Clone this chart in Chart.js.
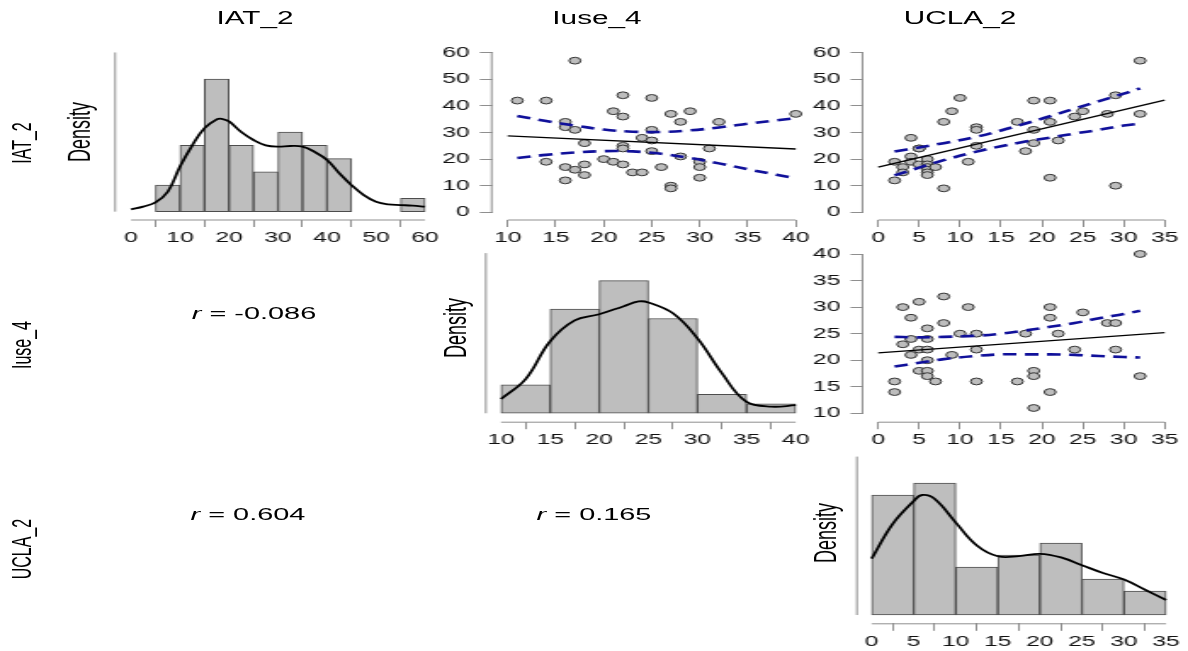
<!DOCTYPE html>
<html><head><meta charset="utf-8">
<script src="https://cdn.jsdelivr.net/npm/chart.js@4.4.1/dist/chart.umd.min.js"></script>
<style>
html,body{margin:0;padding:0;background:#fff;overflow:hidden;width:1188px;height:651px;}
#stage{position:absolute;left:0;top:0;width:699px;height:651px;transform:scaleX(1.6996);transform-origin:0 0;font-family:'Liberation Sans',Arial,Helvetica,sans-serif;}
#stage canvas{position:absolute;left:0;top:0;}
.t{position:absolute;white-space:nowrap;color:#000;line-height:1;transform:translate(-50%,-50%);}
.rot{transform:translate(-50%,-50%) rotate(-90deg);}
</style></head><body><div id="stage"></div>
<script>
// ---------------- DATA ----------------
const varNames = ['IAT_2', 'Iuse_4', 'UCLA_2'];
const rValues = ['-0.086', '0.604', '0.165'];   // Iuse_4~IAT_2, UCLA_2~IAT_2, UCLA_2~Iuse_4

// histograms (bin width 5, counts)
const iatBins = [5, 10, 15, 20, 25, 30, 35, 40, 45, 50, 55];
const iatCounts = [2, 5, 10, 5, 3, 6, 5, 4, 0, 0, 1];
const iuseBins = [10, 15, 20, 25, 30, 35];
const iuseCounts = [3, 11, 14, 10, 2, 1];
const uclaBins = [0, 5, 10, 15, 20, 25, 30];
const uclaCounts = [10, 11, 4, 5, 6, 3, 2];

// density curves (in count units)
const iatCurveX = [0, 2.5, 5, 7.5, 10, 12.5, 15, 17.5, 18.5, 20, 22.5, 25, 27.5, 30, 32.5, 35, 37.5, 40, 42.5, 45, 47.5, 50, 52.5, 55, 57.5, 60];
const iatCurveY = [0.18, 0.38, 0.7, 1.5, 3.4, 5.0, 6.3, 6.96, 7.0, 6.8, 6.0, 5.4, 5.0, 4.9, 4.95, 4.9, 4.5, 3.9, 2.9, 2.0, 1.25, 0.75, 0.55, 0.5, 0.45, 0.38];
const iuseCurveX = [10, 12.5, 15, 17.5, 20, 22.5, 24, 25, 27.5, 30, 32.5, 35, 37.5, 40];
const iuseCurveY = [1.5, 3.6, 7.6, 9.8, 10.45, 11.3, 11.8, 11.7, 10.55, 7.9, 4.2, 1.2, 0.7, 0.85];
const uclaCurveX = [0, 2.5, 5, 6, 7.5, 10, 12.5, 15, 17.5, 20, 22.5, 25, 27.5, 30, 32.5, 35];
const uclaCurveY = [4.7, 7.6, 9.5, 10.0, 9.67, 7.7, 5.8, 4.9, 4.9, 5.1, 4.8, 4.15, 3.5, 2.95, 2.1, 1.25];

// scatter: Iuse_4 (x) vs IAT_2 (y)
const bIuse = [11,14,14,16,16,16,16,17,17,17,18,18,18,20,21,21,22,22,22,22,22,23,24,24,25,25,25,25,26,27,27,27,28,28,29,30,30,30,31,32,40];
const bIat  = [42,42,19,34,32,17,12,57,31,16,26,18,14,20,38,19,44,36,25,24,18,15,28,15,43,31,27,23,17,37,10,9,34,21,38,19,17,13,24,34,37];
// scatter: UCLA_2 (x) vs IAT_2 (y)
const cUcla = [2,2,3,3,4,4,4,5,5,5,6,6,6,6,6,6,7,8,8,9,10,11,12,12,12,17,18,19,19,19,21,21,21,22,24,25,28,29,29,32,32];
const cIat  = [19,12,17,15,28,21,19,24,18,24,20,18,17,16,15,14,17,34,9,38,43,19,32,31,25,34,23,42,31,26,42,34,13,27,36,38,37,44,10,57,37];
// scatter: UCLA_2 (x) vs Iuse_4 (y)
const eUcla = [2,2,3,3,4,4,4,5,5,5,6,6,6,6,6,6,7,8,8,9,10,11,12,12,12,17,18,19,19,19,21,21,21,22,24,25,28,29,29,32,32];
const eIuse = [16,14,30,23,28,24,21,31,22,18,26,24,22,20,18,17,16,32,27,21,25,30,25,22,16,16,25,18,17,11,30,28,14,25,22,29,27,27,22,40,17];

// regression lines and 95% bands
const bFitX = [10, 40], bFitY = [28.7, 23.8];
const bCiX  = [11, 14, 17, 20, 23, 26, 29, 32, 35, 38, 40];
const bCiHi = [36.2, 34.3, 32.6, 31.1, 30.3, 30.2, 30.8, 31.9, 33.3, 34.6, 35.4];
const bCiLo = [20.4, 21.6, 22.5, 23.0, 22.9, 22.0, 20.4, 18.4, 16.2, 14.1, 12.8];
const cFitX = [0, 35], cFitY = [17.0, 42.2];
const cCiX  = [2, 5, 8, 12, 15, 18, 21, 24, 27, 30, 32];
const cCiHi = [22.9, 24.4, 26.0, 28.4, 30.75, 33.4, 36.1, 39.0, 41.8, 44.6, 46.6];
const cCiLo = [13.9, 16.8, 19.6, 22.8, 24.85, 26.6, 28.1, 29.6, 31.0, 32.6, 33.4];
const eFitX = [0, 35], eFitY = [21.4, 25.2];
const eCiX  = [2, 5, 8, 12, 15, 18, 21, 24, 27, 30, 32];
const eCiHi = [24.4, 24.3, 24.4, 24.6, 25.0, 25.6, 26.3, 27.0, 27.9, 28.7, 29.3];
const eCiLo = [18.8, 19.5, 20.2, 20.8, 21.1, 21.1, 21.1, 21.0, 20.8, 20.6, 20.5];

// tick labels
const ticksIat60 = [0, 10, 20, 30, 40, 50, 60];
const ticksIuse = [10, 15, 20, 25, 30, 35, 40];
const ticksUcla = [0, 5, 10, 15, 20, 25, 30, 35];

// ---------------- STYLE / LAYOUT ----------------
const W = 699, H = 651, SX = 1188 / W;
const FONT = "'Liberation Sans', Arial, Helvetica, sans-serif";
const AXIS = '#8f8f8f';
const stage = document.getElementById('stage');

const pts = (xs, ys) => xs.map((x, i) => ({x: x, y: ys[i]}));
const bars = (bins, counts) => bins.map((b, i) => ({x: b + 2.5, y: counts[i] > 0 ? counts[i] : null}));

function histSets(bins, counts, cx, cy) {
  return [
    {type: 'line', data: pts(cx, cy), borderColor: '#000', borderWidth: 1.8, pointRadius: 0, tension: 0.4, fill: false, order: 0},
    {type: 'bar', data: bars(bins, counts), backgroundColor: '#bebebe', borderColor: '#4d4d4d', borderWidth: 1,
     borderSkipped: false, barPercentage: 1, categoryPercentage: 1, order: 2}
  ];
}
function scatterSets(xs, ys, fx, fy, cx, chi, clo) {
  const dash = {type: 'line', borderColor: '#10109a', borderWidth: 2.6, borderDash: [8, 5], pointRadius: 0, tension: 0.35, fill: false, order: 0};
  return [
    {type: 'line', data: pts(fx, fy), borderColor: '#000', borderWidth: 1.3, pointRadius: 0, tension: 0, fill: false, order: 0},
    Object.assign({data: pts(cx, chi)}, dash),
    Object.assign({data: pts(cx, clo)}, dash),
    {type: 'scatter', data: pts(xs, ys), pointRadius: 3.4, pointBackgroundColor: '#bdbdbd', pointBorderColor: '#333',
     pointBorderWidth: 1, showLine: false, order: 2}
  ];
}

// geo: chart-area edges in screenshot pixels (l, r horizontal; t, b vertical)
function panel(geo, xr, yr, xTicks, yTicks, yLineTop, datasets) {
  const cv = document.createElement('canvas');
  cv.width = W; cv.height = H;
  stage.appendChild(cv);
  const caL = geo.l / SX, caR = geo.r / SX;
  const YW = yTicks ? 40 : 0, XH = 30;
  const axisLines = {
    id: 'raxis',
    afterDraw(chart) {
      const ctx = chart.ctx, sx = chart.scales.x, sy = chart.scales.y, a = chart.chartArea;
      ctx.save();
      ctx.strokeStyle = AXIS; ctx.lineWidth = 1;
      ctx.beginPath();
      ctx.moveTo(sx.getPixelForValue(xTicks[0]), a.bottom + 0.5);
      ctx.lineTo(sx.getPixelForValue(xTicks[xTicks.length - 1]), a.bottom + 0.5);
      const y0 = yTicks ? yTicks[0] : 0, y1 = yTicks ? yTicks[yTicks.length - 1] : yLineTop;
      ctx.moveTo(a.left - 0.5, sy.getPixelForValue(y0));
      ctx.lineTo(a.left - 0.5, sy.getPixelForValue(y1));
      ctx.stroke();
      ctx.restore();
    }
  };
  const tickFont = {family: FONT, size: 14.5};
  const yScale = yTicks ? {
    type: 'linear', position: 'left', min: yr[0], max: yr[1],
    afterBuildTicks: s => { s.ticks = yTicks.map(v => ({value: v})); },
    afterFit: s => { s.width = YW; s.paddingTop = 0; s.paddingBottom = 0; },
    grid: {display: true, drawOnChartArea: false, drawTicks: true, tickLength: 7.5, color: AXIS, lineWidth: 1},
    border: {display: false},
    ticks: {autoSkip: false, padding: 6, color: '#111', font: tickFont}
  } : {type: 'linear', display: false, min: yr[0], max: yr[1]};
  new Chart(cv, {
    type: 'scatter',
    data: {datasets: datasets},
    options: {
      responsive: false, animation: false, devicePixelRatio: 1,
      layout: {padding: {left: caL - YW, right: W - caR, top: geo.t, bottom: H - geo.b - XH}},
      plugins: {legend: {display: false}, tooltip: {enabled: false}},
      scales: {
        x: {
          type: 'linear', position: 'bottom', min: xr[0], max: xr[1], offset: false,
          afterBuildTicks: s => { s.ticks = xTicks.map(v => ({value: v})); },
          afterFit: s => { s.height = XH; s.paddingLeft = 0; s.paddingRight = 0; },
          grid: {display: true, drawOnChartArea: false, drawTicks: true, tickLength: 7.5, color: AXIS, lineWidth: 1},
          border: {display: false},
          ticks: {autoSkip: false, maxRotation: 0, padding: 2, color: '#111', font: tickFont}
        },
        y: yScale
      }
    },
    plugins: [axisLines]
  });
}

// row 1
panel({l: 116, r: 440, t: 45.7, b: 219.5}, [-3.06, 63.06], [-0.59, 12.51], ticksIat60, null, 12,
      histSets(iatBins, iatCounts, iatCurveX, iatCurveY));
panel({l: 492.5, r: 811, t: 45.7, b: 219.5}, [8.42, 41.59], [-2.7, 62.63], ticksIuse, ticksIat60, null,
      scatterSets(bIuse, bIat, bFitX, bFitY, bCiX, bCiHi, bCiLo));
panel({l: 863.3, r: 1181, t: 45.7, b: 219.5}, [-1.82, 36.82], [-2.7, 62.63], ticksUcla, ticksIat60, null,
      scatterSets(cUcla, cIat, cFitX, cFitY, cCiX, cCiHi, cCiLo));
// row 2
panel({l: 486.7, r: 810, t: 246.5, b: 421.7}, [8.54, 41.46], [-0.89, 17.6], ticksIuse, null, 16.9,
      histSets(iuseBins, iuseCounts, iuseCurveX, iuseCurveY));
panel({l: 863.3, r: 1181, t: 247, b: 421.7}, [-1.82, 36.82], [8.42, 41.32], ticksUcla, ticksIuse, null,
      scatterSets(eUcla, eIuse, eFitX, eFitY, eCiX, eCiHi, eCiLo));
// row 3
panel({l: 857.7, r: 1180, t: 450, b: 623.3}, [-1.66, 36.66], [-0.69, 13.75], ticksUcla, null, 13.2,
      histSets(uclaBins, uclaCounts, uclaCurveX, uclaCurveY));

// ---------------- TEXT ----------------
function text(html, x, y, size, rot) {
  const d = document.createElement('div');
  d.className = 't' + (rot ? ' rot' : '');
  d.innerHTML = html;
  d.style.left = (x / SX) + 'px';
  d.style.top = y + 'px';
  d.style.fontSize = size + 'px';
  stage.appendChild(d);
}
const colX = [255, 597, 960];
const rowY = [143, 345, 549];
varNames.forEach((n, i) => { text(n, colX[i], 19, 17.5, false); text(n, 22, rowY[i], 16, true); });
text('Density', 80, 132, 18, true);
text('Density', 455, 328, 18, true);
text('Density', 826, 533, 18, true);
text('<i>r</i> = ' + rValues[0], 254, 313, 17, false);
text('<i>r</i> = ' + rValues[1], 248, 514, 17, false);
text('<i>r</i> = ' + rValues[2], 594, 514, 17, false);
</script>
</body></html>
